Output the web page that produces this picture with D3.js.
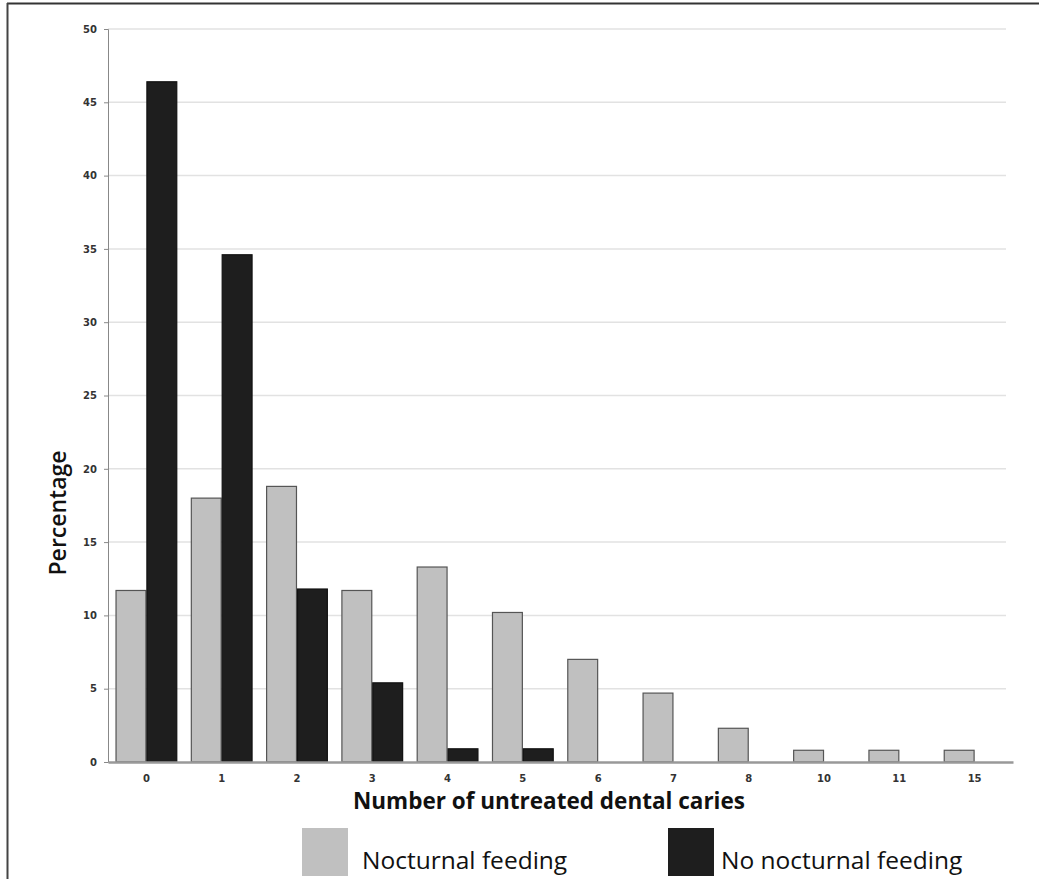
<!DOCTYPE html>
<html>
<head>
<meta charset="utf-8">
<script src="https://cdn.jsdelivr.net/npm/d3@7"></script>
<style>
  html, body { margin: 0; padding: 0; background: #fff; }
  svg { display: block; }
</style>
</head>
<body>
<svg id="chart" width="1039" height="879"></svg>
<script>
const categories = ["0", "1", "2", "3", "4", "5", "6", "7", "8", "10", "11", "15"];
const seriesNames = ["Nocturnal feeding", "No nocturnal feeding"];
const nocturnal = [11.7, 18.0, 18.8, 11.7, 13.3, 10.2, 7.0, 4.7, 2.3, 0.8, 0.8, 0.8];
const noNocturnal = [46.4, 34.6, 11.8, 5.4, 0.9, 0.9, 0, 0, 0, 0, 0, 0];
const yTicks = [0, 5, 10, 15, 20, 25, 30, 35, 40, 45, 50];
const colors = ["#c0c0c0", "#1e1e1e"];
const strokes = ["#555", "#111"];

const svg = d3.select("#chart");
const plotLeft = 108, plotRight = 1013, plotTop = 29, plotBottom = 762;

// frame lines
svg.append("line").attr("x1", 7).attr("x2", 1039).attr("y1", 3.5).attr("y2", 3.5)
  .attr("stroke", "#333").attr("stroke-width", 2);
svg.append("line").attr("x1", 7.5).attr("x2", 7.5).attr("y1", 3).attr("y2", 879)
  .attr("stroke", "#444").attr("stroke-width", 2);

const x0 = d3.scaleBand().domain(categories).range([plotLeft, plotRight])
  .paddingInner(0.18).paddingOuter(0.1);
const x1 = d3.scaleBand().domain([0, 1]).range([0, x0.bandwidth()]).padding(0);
const y = d3.scaleLinear().domain([0, 50]).range([plotBottom, plotTop]);

// gridlines
svg.append("g").selectAll("line").data(yTicks.filter(d => d > 0)).join("line")
  .attr("x1", plotLeft).attr("x2", 1006)
  .attr("y1", d => y(d)).attr("y2", d => y(d))
  .attr("stroke", "#e2e2e2").attr("stroke-width", 1.5);

// y axis
const yAxis = svg.append("g").attr("transform", `translate(${plotLeft},0)`)
  .call(d3.axisLeft(y).tickValues(yTicks).tickSize(4).tickPadding(7));
yAxis.select(".domain").attr("stroke", "#888").attr("stroke-width", 1);
yAxis.selectAll(".tick line").attr("stroke", "#888");
yAxis.selectAll("text").attr("font-family", "DejaVu Sans").attr("font-weight", "bold")
  .attr("font-size", 10).attr("fill", "#333");

// bars
const rows = categories.map((c, i) => ({ cat: c, vals: [nocturnal[i], noNocturnal[i]] }));
const groups = svg.append("g").selectAll("g").data(rows).join("g")
  .attr("transform", d => `translate(${x0(d.cat)},0)`);
groups.selectAll("rect").data(d => d.vals.map((v, k) => ({ k, v })).filter(e => e.v > 0))
  .join("rect")
  .attr("x", e => x1(e.k) + 0.5)
  .attr("width", x1.bandwidth() - 1)
  .attr("y", e => y(e.v))
  .attr("height", e => y(0) - y(e.v))
  .attr("fill", e => colors[e.k])
  .attr("stroke", e => strokes[e.k])
  .attr("stroke-width", 1.2);

// x axis
const xAxis = svg.append("g").attr("transform", `translate(0,${plotBottom})`)
  .call(d3.axisBottom(x0).tickSize(0).tickPadding(13));
xAxis.select(".domain").attr("stroke", "#999").attr("stroke-width", 2.5);
xAxis.selectAll("text").attr("font-family", "DejaVu Sans").attr("font-weight", "bold")
  .attr("font-size", 10).attr("fill", "#333");

// axis titles
svg.append("text").attr("x", 549).attr("y", 809)
  .attr("text-anchor", "middle").attr("font-family", "Open Sans")
  .attr("font-weight", "bold").attr("font-size", 22.5).attr("fill", "#111")
  .text("Number of untreated dental caries");
svg.append("text").attr("transform", "translate(66,513) rotate(-90)")
  .attr("text-anchor", "middle").attr("font-family", "Open Sans")
  .attr("font-weight", 600).attr("font-size", 23).attr("fill", "#111")
  .text("Percentage");

// legend
const legendItems = [
  { name: seriesNames[0], k: 0, sx: 302, tx: 362 },
  { name: seriesNames[1], k: 1, sx: 668, tx: 721 }
];
const lg = svg.append("g").selectAll("g").data(legendItems).join("g");
lg.append("rect").attr("x", d => d.sx).attr("y", 828).attr("width", 46).attr("height", 48)
  .attr("fill", d => colors[d.k]);
lg.append("text").attr("x", d => d.tx).attr("y", 869)
  .attr("font-family", "Open Sans").attr("font-size", 24.5).attr("fill", "#111")
  .text(d => d.name);
</script>
</body>
</html>
